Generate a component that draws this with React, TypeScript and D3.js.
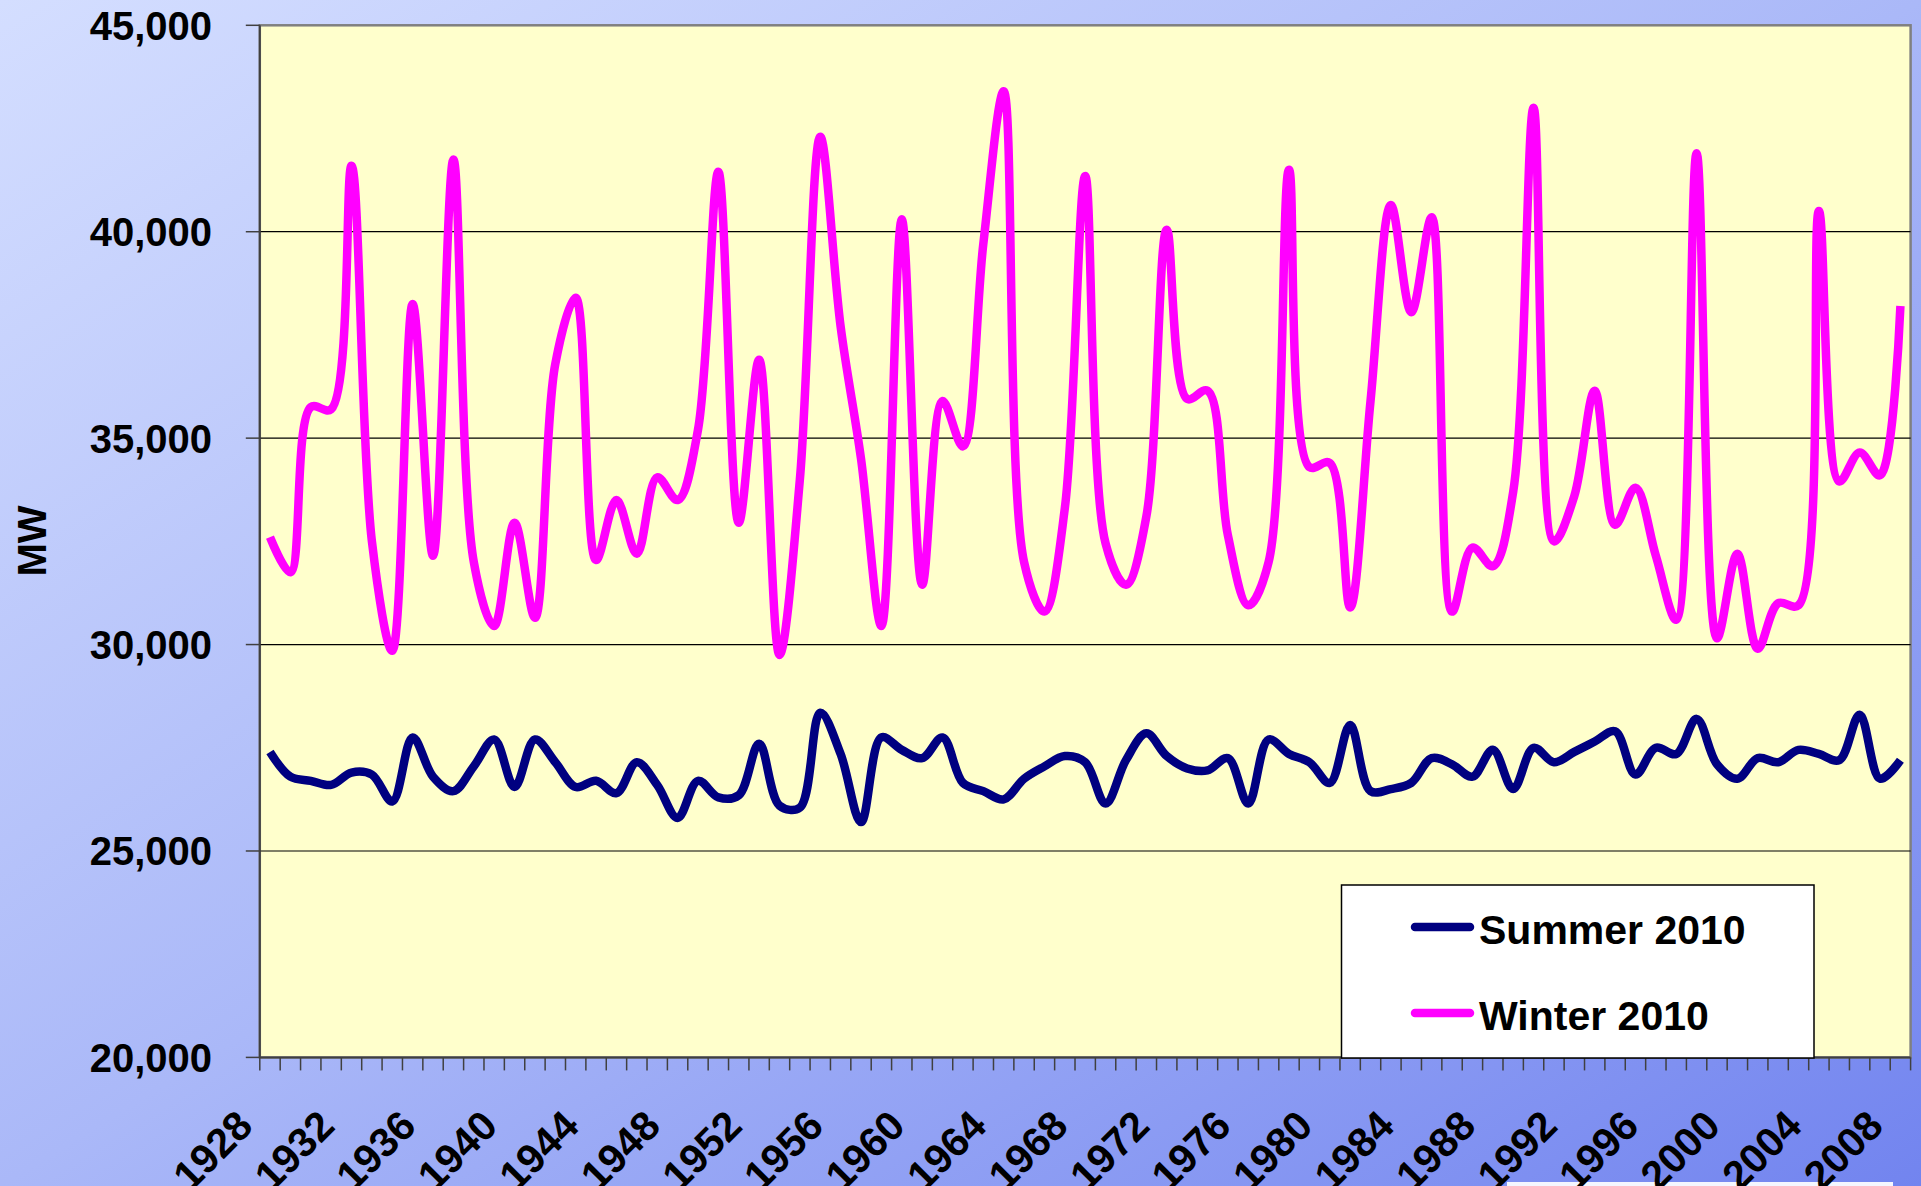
import React from 'react';
import * as d3 from 'd3';

// Peak demand, MW, one value per year 1928..2008
const years = d3.range(1928, 2009);

const summer2010 = [
  27400, 26800, 26700, 26600, 26900, 26850, 26200, 27750, 26800, 26450,
  27050, 27700, 26550, 27700, 27150, 26550, 26700, 26400, 27150, 26600,
  25800, 26700, 26300, 26350, 27600, 26100, 26050, 28350, 27350, 25700,
  27750, 27450, 27250, 27750, 26650, 26450, 26250, 26750, 27050, 27300,
  27150, 26150, 27200, 27850, 27300, 27000, 26950, 27250, 26150, 27700,
  27350, 27150, 26650, 28050, 26450, 26500, 26650, 27250, 27100, 26800,
  27450, 26500, 27500, 27150, 27400, 27650, 27900, 26850, 27500, 27350,
  28200, 27100, 26750, 27250, 27150, 27450, 27350, 27200, 28300, 26750,
  27200,
];

const winter2010 = [
  32600, 31750, 35750, 35700, 41600, 32500, 29850, 38250, 32150, 41750,
  32000, 30450, 32950, 30650, 36800, 38400, 32050, 33500, 32200, 34050,
  33500, 35200, 41450, 32950, 36900, 29750, 34000, 42300, 37700, 34500,
  30450, 40300, 31450, 35900, 34800, 39700, 43400, 32000, 30800, 33300,
  41350, 32450, 31450, 33100, 40050, 35950, 36150, 32650, 30950, 32000,
  41500, 34300, 34400, 30900, 35900, 40650, 38050, 40350, 30800, 32350,
  31900, 33700, 43000, 32500, 33600, 36150, 32900, 33800, 32150, 30600,
  41900, 30150, 32200, 29900, 31000, 30950, 40500, 33950, 34650, 34100,
  38200,
];

const yTicks = [20000, 25000, 30000, 35000, 40000, 45000];
const xLabels = [
  1928, 1932, 1936, 1940, 1944, 1948, 1952, 1956, 1960, 1964, 1968,
  1972, 1976, 1980, 1984, 1988, 1992, 1996, 2000, 2004, 2008,
];

const series = [
  { name: 'Summer 2010', values: summer2010, color: '#000080' },
  { name: 'Winter 2010', values: winter2010, color: '#ff00ff' },
];

const W = 1921;
const H = 1186;
const left = 259.8;
const right = 1910.6;
const top = 25.3;
const bottom = 1057.4;
const font = "'Liberation Sans', Arial, sans-serif";

export default function App() {
  const x = d3.scaleBand<number>().domain(years).range([left, right]).padding(0);
  const y = d3.scaleLinear().domain([20000, 45000]).range([bottom, top]);
  const cx = (yr: number) => (x(yr) as number) + x.bandwidth() / 2;
  const fmt = d3.format(',');

  const line = d3
    .line<number>()
    .x((_, i) => cx(years[i]))
    .y((d) => y(d))
    .curve(d3.curveCatmullRom.alpha(0.5));

  // category boundaries for the small tick marks
  const tickXs = years.map((yr) => x(yr) as number).concat([right]);

  return (
    <svg
      width={W}
      height={H}
      style={{ position: 'absolute', left: 0, top: 0, display: 'block' }}
      fontFamily={font}
    >
      <defs>
        <linearGradient id="bg" x1="0" y1="0" x2="1" y2="1">
          <stop offset="0" stopColor="#d4deff" />
          <stop offset="0.5" stopColor="#aab8f8" />
          <stop offset="1" stopColor="#7284ef" />
        </linearGradient>
      </defs>
      <rect x={0} y={0} width={W} height={H} fill="url(#bg)" />
      <rect x={1507} y={1182} width={386} height={4} fill="#f4f6ff" />

      {/* plot area */}
      <rect
        x={left}
        y={top}
        width={right - left}
        height={bottom - top}
        fill="#ffffcc"
        stroke="#808080"
        strokeWidth={2.5}
      />

      {/* gridlines */}
      {yTicks
        .filter((t) => t > 20000 && t < 45000)
        .map((t) => (
          <line key={t} x1={left} x2={right} y1={y(t)} y2={y(t)} stroke="#000" strokeWidth={1.2} />
        ))}

      {/* y axis */}
      <line x1={left} x2={left} y1={top} y2={bottom} stroke="#404040" strokeWidth={2} />
      {yTicks.map((t) => (
        <g key={t}>
          <line x1={left - 14} x2={left} y1={y(t)} y2={y(t)} stroke="#404040" strokeWidth={1.5} />
          <text
            x={212}
            y={y(t) + 14.5}
            textAnchor="end"
            fontSize={40}
            fontWeight="bold"
            fill="#000"
          >
            {fmt(t)}
          </text>
        </g>
      ))}
      <text
        transform={`translate(46, 541) rotate(-90)`}
        textAnchor="middle"
        fontSize={40}
        fontWeight="bold"
        fill="#000"
      >
        MW
      </text>

      {/* series */}
      {series.map((s) => (
        <path
          key={s.name}
          d={line(s.values) as string}
          fill="none"
          stroke={s.color}
          strokeWidth={8.5}
          strokeLinejoin="round"
        />
      ))}

      {/* x axis */}
      <line x1={left} x2={right} y1={bottom} y2={bottom} stroke="#404040" strokeWidth={2} />
      {tickXs.map((tx, i) => (
        <line key={i} x1={tx} x2={tx} y1={bottom} y2={bottom + 13} stroke="#404040" strokeWidth={1.5} />
      ))}
      {xLabels.map((yr) => (
        <text
          key={yr}
          transform={`translate(${cx(yr) - 15}, 1128) rotate(-45)`}
          textAnchor="end"
          fontSize={41}
          fontWeight="bold"
          fill="#000"
        >
          {yr}
        </text>
      ))}

      {/* legend */}
      <rect x={1341.5} y={885} width={472.5} height={173} fill="#fff" stroke="#000" strokeWidth={1.5} />
      {series.map((s, i) => (
        <g key={s.name}>
          <line
            x1={1415}
            x2={1470}
            y1={927 + i * 86}
            y2={927 + i * 86}
            stroke={s.color}
            strokeWidth={8.5}
            strokeLinecap="round"
          />
          <text x={1479} y={944 + i * 86} fontSize={41} fontWeight="bold" fill="#000">
            {s.name}
          </text>
        </g>
      ))}
    </svg>
  );
}
